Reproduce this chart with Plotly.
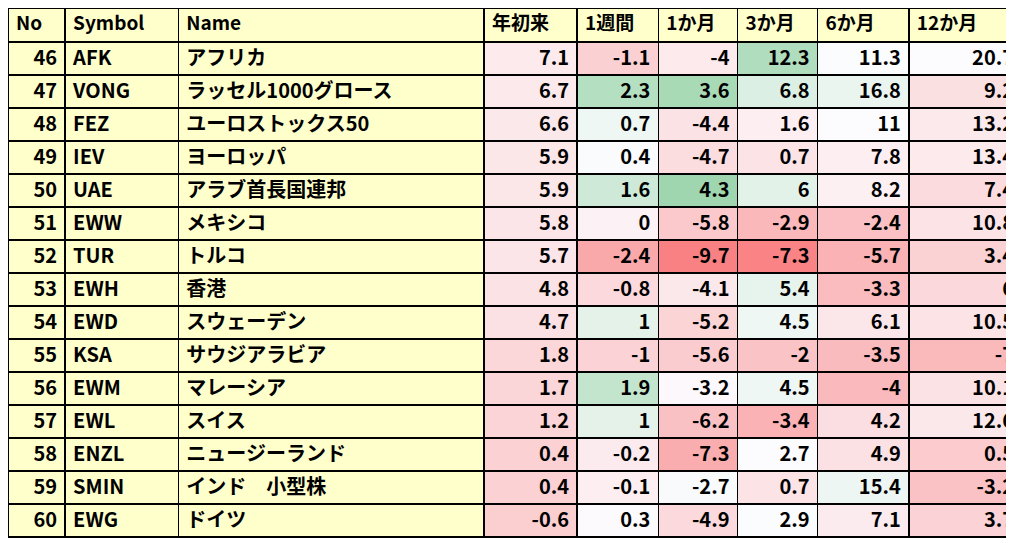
import plotly.graph_objects as go
import numpy as np

headers = ["No", "Symbol", "Name", "年初来", "1週間", "1か月", "3か月", "6か月", "12か月"]
nos = list(range(46, 61))
symbols = ["AFK", "VONG", "FEZ", "IEV", "UAE", "EWW", "TUR", "EWH", "EWD", "KSA", "EWM", "EWL", "ENZL", "SMIN", "EWG"]
names = ["アフリカ", "ラッセル1000グロース", "ユーロストックス50", "ヨーロッパ", "アラブ首長国連邦", "メキシコ", "トルコ", "香港",
         "スウェーデン", "サウジアラビア", "マレーシア", "スイス", "ニュージーランド", "インド　小型株", "ドイツ"]
ytd = [7.1, 6.7, 6.6, 5.9, 5.9, 5.8, 5.7, 4.8, 4.7, 1.8, 1.7, 1.2, 0.4, 0.4, -0.6]
w1 = [-1.1, 2.3, 0.7, 0.4, 1.6, 0, -2.4, -0.8, 1, -1, 1.9, 1, -0.2, -0.1, 0.3]
m1 = [-4, 3.6, -4.4, -4.7, 4.3, -5.8, -9.7, -4.1, -5.2, -5.6, -3.2, -6.2, -7.3, -2.7, -4.9]
m3 = [12.3, 6.8, 1.6, 0.7, 6, -2.9, -7.3, 5.4, 4.5, -2, 4.5, -3.4, 2.7, 0.7, 2.9]
m6 = [11.3, 16.8, 11, 7.8, 8.2, -2.4, -5.7, -3.3, 6.1, -3.5, -4, 4.2, 4.9, 15.4, 7.1]
m12 = [20.7, 9.2, 13.2, 13.4, 7.4, 10.8, 3.4, 6, 10.5, -7, 10.1, 12.6, 0.5, -3.2, 3.7]
numcols = [ytd, w1, m1, m3, m6, m12]
# per-column colour scale anchors (min, mid, max) as in the source sheet
anchors = [(-28, 12, 30), (-4.5, 0.35, 4.5), (-11, -3.0, 9.0), (-9.5, 2.8, 22), (-22, 11, 60), (-40, 21, 60)]

RED = np.array([248, 105, 107]); WHITE = np.array([252, 252, 255]); GREEN = np.array([99, 190, 123])

def col(v, a):
    lo, mid, hi = a
    if v <= mid:
        t = min(1, (mid - v) / (mid - lo)); c = WHITE + (RED - WHITE) * t
    else:
        t = min(1, (v - mid) / (hi - mid)); c = WHITE + (GREEN - WHITE) * t
    return "rgb(%d,%d,%d)" % tuple(c.round())

def fmt(v):
    return ("%g" % v)

YEL = "#FFFFCC"
n = len(nos)
values = [[str(x) for x in nos], symbols, names] + [[fmt(v) for v in c] for c in numcols]
fills = [[YEL] * n] * 3 + [[col(v, a) for v in c] for c, a in zip(numcols, anchors)]
aligns = ["right", "left", "left"] + ["right"] * 6

fig = go.Figure(go.Table(
    domain=dict(x=[0, 1], y=[0, 1]),
    columnwidth=[57, 113, 305, 93, 81, 79, 80, 91, 113],
    header=dict(values=headers, fill_color=YEL, line=dict(color="black", width=1.5),
                align=["left"] * 9, height=34,
                font=dict(family="Noto Sans CJK JP", size=19, color="black", weight="bold")),
    cells=dict(values=values, fill_color=fills, line=dict(color="black", width=1.5),
               align=aligns, height=33,
               font=dict(family="Noto Sans CJK JP", size=20, color="black", weight="bold")),
))
fig.update_layout(width=1014, height=543, margin=dict(l=0, r=0, t=0, b=0), paper_bgcolor="white")
fig.write_html("out.html")
